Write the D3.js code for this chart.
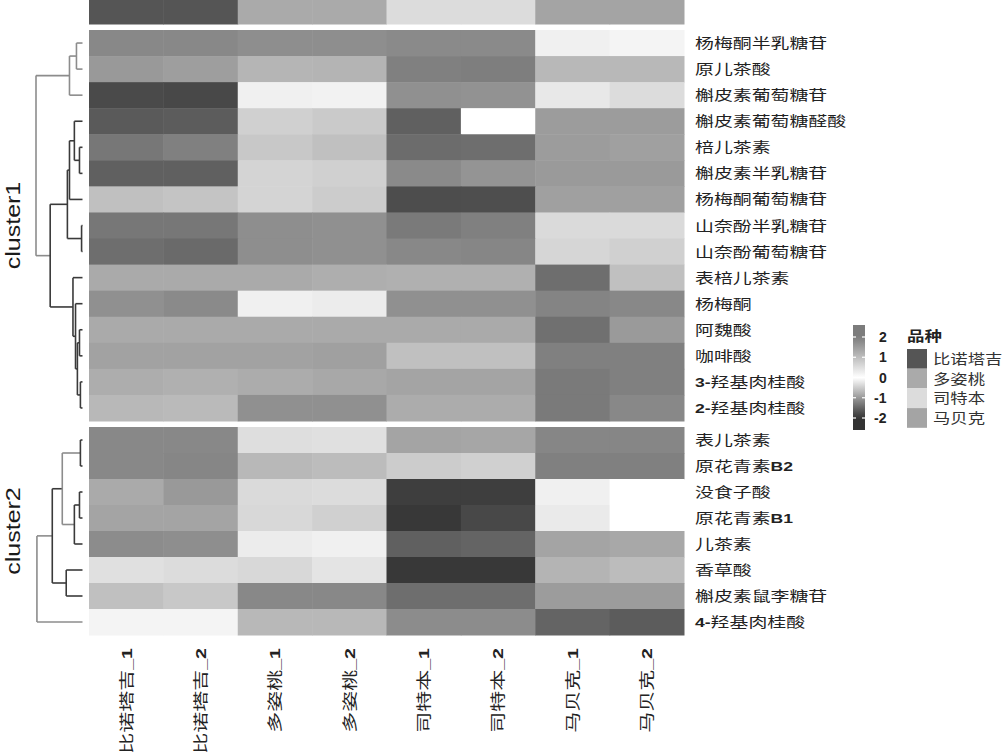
<!DOCTYPE html>
<html><head><meta charset="utf-8">
<script src="https://cdn.jsdelivr.net/npm/d3@7"></script>
<style>
html,body{margin:0;padding:0;background:#fff;}
svg{display:block;}
</style>
</head><body>
<svg id="chart" width="1004" height="756"></svg>
<script>
// ---------------- data ----------------
const columns = ["比诺塔吉_1","比诺塔吉_2","多姿桃_1","多姿桃_2","司特本_1","司特本_2","马贝克_1","马贝克_2"];
const columnVariety = ["比诺塔吉","比诺塔吉","多姿桃","多姿桃","司特本","司特本","马贝克","马贝克"];
const varieties = ["比诺塔吉","多姿桃","司特本","马贝克"];
const varietyColors = ["#555555","#aaaaaa","#dcdcdc","#a4a4a4"];

const cluster1Rows = ["杨梅酮半乳糖苷","原儿茶酸","槲皮素葡萄糖苷","槲皮素葡萄糖醛酸","棓儿茶素","槲皮素半乳糖苷","杨梅酮葡萄糖苷","山奈酚半乳糖苷","山奈酚葡萄糖苷","表棓儿茶素","杨梅酮","阿魏酸","咖啡酸","3-羟基肉桂酸","2-羟基肉桂酸"];
const cluster1Values = [
  [1.82,1.82,1.73,1.73,1.79,1.79,0.23,0.17],
  [1.56,1.48,1.13,1.15,1.94,1.97,1.08,1.08],
  [-1.77,-1.79,0.23,0.20,1.69,1.66,0.35,0.53],
  [-1.62,-1.60,0.72,0.81,-1.56,0.00,1.51,1.51],
  [-1.33,-1.25,0.84,0.96,-1.44,-1.42,1.51,1.45],
  [-1.56,-1.56,0.66,0.72,1.79,1.63,1.54,1.54],
  [0.96,0.90,0.66,0.78,-1.75,-1.74,1.45,1.45],
  [-1.33,-1.33,1.73,1.69,-1.30,-1.25,0.56,0.56],
  [-1.42,-1.46,1.73,1.69,1.82,1.85,0.63,0.72],
  [1.30,1.30,1.30,1.24,1.21,1.21,-1.42,0.96],
  [1.69,1.79,0.23,0.29,1.69,1.69,1.88,1.82],
  [1.30,1.30,1.30,1.30,1.30,1.30,-1.40,1.54],
  [1.42,1.42,1.42,1.45,0.96,0.96,1.94,1.94],
  [1.25,1.21,1.27,1.33,1.39,1.39,-1.30,-1.25],
  [1.08,1.05,1.69,1.69,1.27,1.27,-1.30,1.82]
];
const cluster2Rows = ["表儿茶素","原花青素B2","没食子酸","原花青素B1","儿茶素","香草酸","槲皮素鼠李糖苷","4-羟基肉桂酸"];
const cluster2Values = [
  [1.82,1.82,0.50,0.47,1.39,1.36,1.85,1.85],
  [1.82,1.85,1.08,1.02,0.78,0.72,1.94,1.94],
  [1.30,1.56,0.56,0.53,-1.89,-1.89,0.23,0.00],
  [1.39,1.39,0.60,0.72,-1.95,-1.79,0.32,0.00],
  [1.76,1.73,0.29,0.23,-1.56,-1.52,1.39,1.33],
  [0.47,0.53,0.60,0.41,-1.95,-1.95,1.15,1.02],
  [0.96,0.84,1.82,1.82,-1.42,-1.42,1.51,1.51],
  [0.17,0.17,1.08,1.08,1.76,1.76,-1.52,-1.60]
];
const clusterNames = ["cluster1","cluster2"];
const legendTicks = [2,1,0,-1,-2];

// dendrograms (merge heights)
const cluster1Tree = {id:"c1", h:10, children:[
  {id:"B", h:2.8, children:[
    {id:"A", h:1.3, children:[{leaf:"杨梅酮半乳糖苷"},{leaf:"原儿茶酸"}]},
    {leaf:"槲皮素葡萄糖苷"}]},
  {id:"J", h:6.95, children:[
    {id:"G", h:3.25, children:[
      {id:"E", h:2.8, children:[
        {id:"D", h:1.75, children:[{leaf:"槲皮素葡萄糖醛酸"},
          {id:"C", h:0.65, children:[{leaf:"棓儿茶素"},{leaf:"槲皮素半乳糖苷"}]}]},
        {leaf:"杨梅酮葡萄糖苷"}]},
      {id:"F", h:0.2, children:[{leaf:"山奈酚半乳糖苷"},{leaf:"山奈酚葡萄糖苷"}]}]},
    {id:"L", h:2.05, children:[
      {leaf:"表棓儿茶素"},
      {id:"H", h:1.5, children:[
        {leaf:"杨梅酮"},
        {id:"I", h:1.1, children:[
          {id:"K1", h:0.65, children:[{leaf:"阿魏酸"},{leaf:"咖啡酸"}]},
          {id:"K2", h:0.45, children:[{leaf:"3-羟基肉桂酸"},{leaf:"2-羟基肉桂酸"}]}]}]}]}]}
]};
const cluster2Tree = {id:"c2", h:9.8, children:[
  {id:"P", h:6.5, children:[
    {id:"Q", h:4.35, children:[
      {id:"R", h:0.45, children:[{leaf:"表儿茶素"},{leaf:"原花青素B2"}]},
      {id:"S", h:1.75, children:[
        {id:"T", h:0.65, children:[{leaf:"没食子酸"},{leaf:"原花青素B1"}]},
        {leaf:"儿茶素"}]}]},
    {id:"U", h:3.5, children:[{leaf:"香草酸"},{leaf:"槲皮素鼠李糖苷"}]}]},
  {leaf:"4-羟基肉桂酸"}
]};

// ---------------- drawing ----------------
const svg = d3.select("#chart");
const CJK = "'Noto Sans CJK SC','Noto Sans',sans-serif";
const LAT = "'Liberation Sans',Arial,sans-serif";

const x = d3.scaleBand().domain(columns).range([89, 684]);
const slices = [
  {rows: cluster1Rows, values: cluster1Values, tree: cluster1Tree, y: d3.scaleBand().domain(cluster1Rows).range([30, 421])},
  {rows: cluster2Rows, values: cluster2Values, tree: cluster2Tree, y: d3.scaleBand().domain(cluster2Rows).range([427, 635])}
];
const color = d3.scaleLinear().domain([-2,0,2]).range(["#333333","#ffffff","#7c7c7c"]).clamp(true);
const varietyColor = d3.scaleOrdinal().domain(varieties).range(varietyColors);
const hx = d3.scaleLinear().domain([0,10]).range([82.5, 36]);

// top annotation
svg.append("g").selectAll("rect").data(columns).join("rect")
  .attr("x", d => x(d)).attr("y", 0).attr("width", x.bandwidth()+0.5).attr("height", 24.5)
  .attr("fill", (d,i) => varietyColor(columnVariety[i]));

function addMixedText(sel, str, latSize) {
  const parts = str.split(/([A-Za-z0-9_\-]+)/).filter(s => s.length);
  parts.forEach(p => {
    const isLat = /^[A-Za-z0-9_\-]+$/.test(p);
    sel.append("tspan").text(p)
      .attr("font-family", isLat ? LAT : CJK)
      .attr("font-weight", isLat ? "bold" : "normal")
      .attr("font-size", isLat ? latSize : null);
  });
}

const grayLinks = new Set(["c1","B","A","c2","Q"]);

slices.forEach((s, si) => {
  const g = svg.append("g");
  s.rows.forEach((r, ri) => {
    g.selectAll(null).data(s.values[ri]).join("rect")
      .attr("x", (d,ci) => x(columns[ci])).attr("y", s.y(r))
      .attr("width", x.bandwidth()+0.5).attr("height", s.y.bandwidth()+0.5)
      .attr("fill", d => color(d));
    const t = svg.append("text")
      .attr("transform", `translate(695,${s.y(r)+s.y.bandwidth()/2}) scale(1.35,1)`)
      .attr("dy", "0.36em").attr("font-size", 14).attr("fill", "#222");
    addMixedText(t, r, 13);
  });

  // dendrogram
  const root = d3.hierarchy(s.tree);
  root.eachAfter(n => {
    if (!n.children) { n.px = hx(0); n.py = s.y(n.data.leaf) + s.y.bandwidth()/2; }
    else { n.px = hx(n.data.h); n.py = d3.mean([n.children[0].py, n.children[n.children.length-1].py]); }
  });
  const dg = svg.append("g").attr("fill","none").attr("stroke-width",1.6);
  root.each(n => {
    if (!n.children) return;
    const stroke = grayLinks.has(n.data.id) ? "#8c8c8c" : "#3a3a3a";
    const ys = n.children.map(c => c.py);
    dg.append("line").attr("x1", n.px).attr("x2", n.px).attr("y1", d3.min(ys)).attr("y2", d3.max(ys)).attr("stroke", stroke);
    n.children.forEach(c => {
      dg.append("line").attr("x1", n.px).attr("x2", c.px).attr("y1", c.py).attr("y2", c.py).attr("stroke", stroke);
    });
  });

  // cluster title
  const [y0, y1] = s.y.range();
  svg.append("text")
    .attr("transform", `translate(20,${(y0+y1)/2}) rotate(-90) scale(1.25,1)`)
    .attr("text-anchor","middle").attr("font-family", LAT).attr("font-size", 20).attr("fill","#1a1a1a")
    .text(clusterNames[si]);
});

// column labels
columns.forEach(c => {
  const t = svg.append("text")
    .attr("transform", `translate(${x(c)+x.bandwidth()/2},648) rotate(-90) scale(1.4,1)`)
    .attr("text-anchor","end").attr("dy","0.36em").attr("font-size", 15).attr("fill","#222");
  addMixedText(t, c, 14);
});

// color legend
const ly = d3.scaleLinear().domain([-2,2]).range([418, 337]);
const defs = svg.append("defs");
const grad = defs.append("linearGradient").attr("id","lg").attr("x1",0).attr("x2",0).attr("y1",1).attr("y2",0);
const barTop = 325, barBot = 430;
d3.range(0, 1.0001, 0.05).forEach(f => {
  const yy = barBot - f*(barBot-barTop);
  grad.append("stop").attr("offset", f).attr("stop-color", color(ly.invert(yy)));
});
svg.append("rect").attr("x",853).attr("y",barTop).attr("width",12).attr("height",barBot-barTop).attr("fill","url(#lg)");
legendTicks.forEach(v => {
  svg.append("line").attr("x1",853).attr("x2",856).attr("y1",ly(v)).attr("y2",ly(v)).attr("stroke","#fff").attr("stroke-width",1.2);
  svg.append("line").attr("x1",862).attr("x2",865).attr("y1",ly(v)).attr("y2",ly(v)).attr("stroke","#fff").attr("stroke-width",1.2);
  svg.append("text").attr("x", v < 0 ? 874 : 879).attr("y",ly(v)).attr("dy","0.36em")
    .attr("font-family",LAT).attr("font-weight","bold").attr("font-size",14).attr("fill","#222").text(v);
});

// variety legend
svg.append("text").attr("transform","translate(907,341) scale(1.25,1)")
  .attr("font-family",CJK).attr("font-weight","bold").attr("font-size",14).attr("fill","#222").text("品种");
varieties.forEach((v,i) => {
  const yy = 349 + i*19.7;
  svg.append("rect").attr("x",907).attr("y",yy).attr("width",20).attr("height",19.7).attr("fill",varietyColor(v));
  svg.append("text").attr("transform",`translate(933,${yy+10}) scale(1.24,1)`).attr("dy","0.36em")
    .attr("font-family",CJK).attr("font-size",14).attr("fill","#333").text(v);
});
</script>
</body></html>
